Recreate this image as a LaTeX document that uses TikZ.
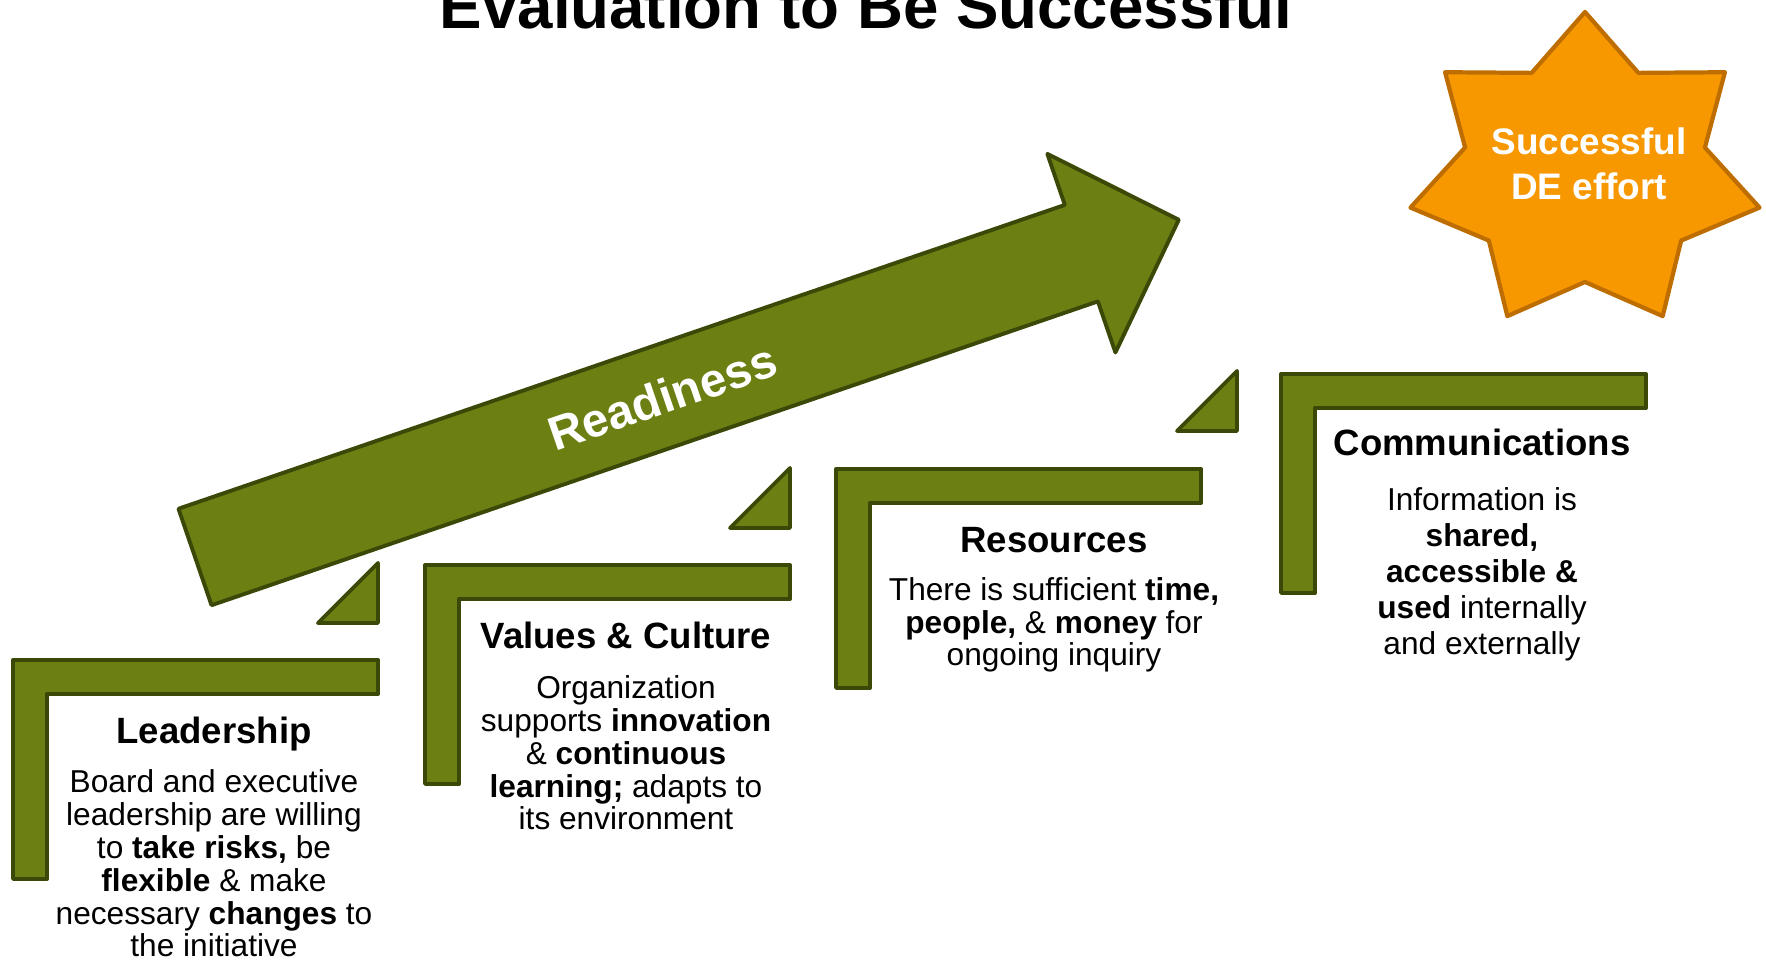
\documentclass[tikz,border=0pt]{standalone}
\usepackage{fontspec}
\setmainfont{Liberation Sans}
\usepackage{xcolor}
\definecolor{stepgreen}{RGB}{107,127,19}
\definecolor{stepedge}{RGB}{58,72,8}
\definecolor{burstfill}{RGB}{248,152,0}
\definecolor{burstedge}{RGB}{190,110,0}
\usepackage{tikz}
\usetikzlibrary{positioning}
\tikzset{
  stepbar/.style   ={ fill=stepgreen, draw=stepedge, line width=1.1pt, line join=round },
  burst/.style     ={ fill=burstfill, draw=burstedge, line width=1.2pt, line join=round },
  headline/.style  ={ font=\fontsize{18.1}{21}\selectfont\bfseries, anchor=base, inner sep=0pt },
  readlabel/.style ={ font=\fontsize{13.5}{16}\selectfont\bfseries, text=white, inner sep=0pt },
  burstlabel/.style={ font=\fontsize{10.5}{12.8}\selectfont\bfseries, text=white, align=center,
                      anchor=base, inner sep=0pt },
  stephead/.style  ={ font=\fontsize{10.4}{12}\selectfont\bfseries, anchor=base, inner sep=0pt },
  steptext/.style  ={ font=\fontsize{9}{9.33}\selectfont, align=center, anchor=base, inner sep=0pt },
  widetext/.style  ={ steptext, font=\fontsize{9}{10.24}\selectfont }
}

\begin{document}
\begin{tikzpicture}[x=0.01cm,y=-0.01cm]
\useasboundingbox (0,0) rectangle (1766,962);

\node[headline] (title) at (866,29) {Evaluation to Be Successful};

% readiness arrow
\begin{scope}[shift={(195,557)},rotate=18.92]
\draw[stepbar] (0,-51) -- (937,-51) -- (937,-105) -- (1040,0) -- (937,105) -- (937,51) -- (0,51) -- cycle;
\node[readlabel,transform shape] (ready) at (494,0) {Readiness};
\end{scope}

% star
\begin{scope}[shift={(1585,172)}]
\draw[burst] (-90:179 and 160)
  \foreach \k in {0,...,5} { -- ({-90+\k*360/7+360/14}:123 and 110) -- ({-90+(\k+1)*360/7}:179 and 160) }
  -- ({-90+6*360/7+360/14}:123 and 110) -- cycle;
\end{scope}
\node[burstlabel] (goal) at (1589,200) {Successful\\DE effort};

% steps and wedges
\foreach \x/\y in {13/660,425/565,836/469,1281/374}
  \draw[stepbar] (\x,\y) -- ++(365,0) -- ++(0,34) -- ++(-331,0) -- ++(0,185) -- ++(-34,0) -- cycle;
\foreach \x/\y in {378/563,790/468,1237/371}
  \draw[stepbar] (\x,\y) -- ++(0,60) -- ++(-60,0) -- cycle;

\node[stephead] (lead) at (214,744) {Leadership};
\node[steptext] (leadtext) at (214,957) {Board and executive\\leadership are willing\\to \textbf{take risks,} be\\\textbf{flexible} \& make\\necessary \textbf{changes} to\\the initiative};

\node[stephead] (values) at (626,649) {Values \& Culture};
\node[steptext] (valuestext) at (626,830) {Organization\\supports \textbf{innovation}\\\& \textbf{continuous}\\\textbf{learning;} adapts to\\its environment};

\node[stephead] (res) at (1054,553) {Resources};
\node[steptext] (restext) at (1054,666) {There is sufficient \textbf{time,}\\\textbf{people,} \& \textbf{money} for\\ongoing inquiry};

\node[stephead] (comm) at (1482,456) {Communications};
\node[widetext] (commtext) at (1482,655) {Information is\\\textbf{shared,}\\\textbf{accessible \&}\\\textbf{used} internally\\and externally};

\end{tikzpicture}
\end{document}
